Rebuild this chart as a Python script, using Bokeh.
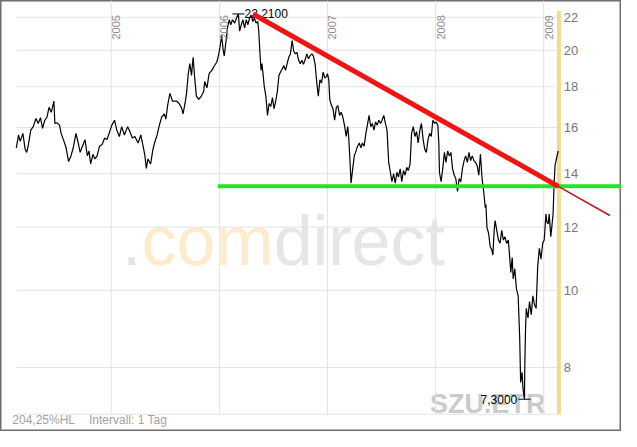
import math
from bokeh.plotting import figure
from bokeh.models import ColumnDataSource, LabelSet, Label, Range1d
from bokeh.core.properties import value
from bokeh.embed import file_html
from bokeh.resources import INLINE

# ---------------- data ----------------
DATES = [
    2004.121, 2004.142, 2004.157, 2004.182, 2004.203, 2004.218, 2004.233, 2004.255, 2004.278, 2004.303,
    2004.324, 2004.345, 2004.364, 2004.385, 2004.405, 2004.424, 2004.445, 2004.469, 2004.478, 2004.496,
    2004.521, 2004.536, 2004.557, 2004.582, 2004.605, 2004.627, 2004.648, 2004.673, 2004.694, 2004.712,
    2004.733, 2004.757, 2004.778, 2004.794, 2004.809, 2004.830, 2004.848, 2004.869, 2004.891, 2004.915,
    2004.939, 2004.960, 2004.975, 2005.005, 2005.030, 2005.051, 2005.075, 2005.096, 2005.121, 2005.151,
    2005.173, 2005.194, 2005.218, 2005.248, 2005.273, 2005.294, 2005.309, 2005.324, 2005.339, 2005.364,
    2005.385, 2005.400, 2005.424, 2005.445, 2005.466, 2005.491, 2005.505, 2005.521, 2005.542, 2005.566,
    2005.603, 2005.627, 2005.651, 2005.664, 2005.682, 2005.696, 2005.712, 2005.727, 2005.742, 2005.757,
    2005.773, 2005.787, 2005.809, 2005.833, 2005.855, 2005.864, 2005.885, 2005.905, 2005.930, 2005.955,
    2005.975, 2005.991, 2006.005, 2006.021, 2006.036, 2006.045, 2006.060, 2006.075, 2006.091, 2006.105,
    2006.121, 2006.142, 2006.157, 2006.176, 2006.187, 2006.203, 2006.218, 2006.233, 2006.248, 2006.264,
    2006.278, 2006.294, 2006.309, 2006.324, 2006.339, 2006.355, 2006.364, 2006.375, 2006.385, 2006.394,
    2006.405, 2006.415, 2006.430, 2006.445, 2006.460, 2006.475, 2006.491, 2006.505, 2006.521, 2006.536,
    2006.551, 2006.566, 2006.582, 2006.596, 2006.612, 2006.627, 2006.642, 2006.657, 2006.673, 2006.687,
    2006.703, 2006.718, 2006.733, 2006.748, 2006.764, 2006.778, 2006.794, 2006.809, 2006.824, 2006.839,
    2006.855, 2006.869, 2006.885, 2006.900, 2006.915, 2006.930, 2006.945, 2006.960, 2006.975, 2006.991,
    2007.000, 2007.012, 2007.021, 2007.036, 2007.051, 2007.066, 2007.082, 2007.096, 2007.112, 2007.127,
    2007.142, 2007.157, 2007.173, 2007.187, 2007.196, 2007.205, 2007.218, 2007.233, 2007.248, 2007.264,
    2007.278, 2007.294, 2007.309, 2007.324, 2007.339, 2007.355, 2007.369, 2007.385, 2007.400, 2007.415,
    2007.430, 2007.445, 2007.460, 2007.475, 2007.491, 2007.505, 2007.521, 2007.536, 2007.551, 2007.566,
    2007.582, 2007.596, 2007.612, 2007.627, 2007.642, 2007.657, 2007.673, 2007.687, 2007.703, 2007.718,
    2007.733, 2007.748, 2007.764, 2007.778, 2007.794, 2007.809, 2007.824, 2007.839, 2007.855, 2007.869,
    2007.885, 2007.900, 2007.915, 2007.930, 2007.945, 2007.960, 2007.975, 2007.991, 2008.005, 2008.021,
    2008.030, 2008.036, 2008.051, 2008.066, 2008.082, 2008.096, 2008.112, 2008.127, 2008.142, 2008.157,
    2008.173, 2008.187, 2008.203, 2008.218, 2008.233, 2008.248, 2008.264, 2008.278, 2008.294, 2008.309,
    2008.324, 2008.339, 2008.355, 2008.369, 2008.385, 2008.400, 2008.415, 2008.430, 2008.445, 2008.460,
    2008.466, 2008.475, 2008.491, 2008.505, 2008.521, 2008.530, 2008.542, 2008.551, 2008.566, 2008.582,
    2008.596, 2008.612, 2008.627, 2008.642, 2008.657, 2008.673, 2008.687, 2008.696, 2008.709, 2008.718,
    2008.733, 2008.748, 2008.764, 2008.778, 2008.787, 2008.800, 2008.809, 2008.822, 2008.826, 2008.832,
    2008.839, 2008.855, 2008.869, 2008.885, 2008.900, 2008.915, 2008.930, 2008.945, 2008.960, 2008.975,
    2008.991, 2009.005, 2009.021, 2009.030, 2009.042, 2009.051, 2009.066, 2009.075, 2009.087, 2009.096,
    2009.105, 2009.118, 2009.127, 2009.135,
]
PRICES = [
    15.09, 15.66, 15.37, 15.73, 15.03, 14.89, 15.23, 15.88, 16.04, 16.42,
    16.19, 16.46, 15.96, 16.34, 16.49, 16.96, 16.72, 17.27, 16.19, 16.22,
    16.11, 15.73, 15.45, 15.09, 14.50, 14.74, 15.09, 15.73, 15.30, 14.89,
    15.16, 15.45, 14.74, 14.95, 14.40, 14.81, 14.61, 14.74, 15.16, 15.23,
    15.52, 15.45, 15.66, 16.11, 16.34, 15.88, 15.59, 16.04, 15.66, 16.04,
    15.81, 15.52, 15.59, 15.30, 15.66, 15.16, 14.81, 14.22, 14.61, 14.40,
    15.02, 15.30, 15.66, 16.11, 16.49, 16.64, 16.39, 17.04, 17.66, 17.27,
    17.27, 17.15, 16.92, 16.64, 17.15, 17.66, 18.69, 19.24, 18.60, 19.60,
    18.37, 17.52, 17.35, 17.52, 17.75, 18.27, 17.94, 18.69, 18.87, 19.14,
    19.32, 19.68, 20.15, 20.87, 19.96, 19.68, 20.47, 21.34, 21.84, 21.53,
    21.84, 21.63, 21.94, 22.21, 21.14, 21.53, 21.84, 21.34, 21.84, 21.53,
    21.94, 22.14, 21.73, 21.94, 21.63, 21.73, 21.14, 19.87, 18.87, 19.24,
    18.60, 18.02, 17.52, 16.57, 17.15, 17.00, 17.44, 16.89, 17.27, 17.75,
    18.60, 18.78, 18.96, 19.14, 18.87, 19.24, 19.60, 19.79, 20.57, 19.96,
    19.79, 19.88, 19.43, 19.24, 19.43, 19.20, 19.47, 19.79, 19.51, 19.68,
    19.79, 19.68, 19.24, 18.27, 17.52, 18.36, 18.19, 18.78, 18.45, 18.54,
    18.69, 18.36, 17.35, 17.07, 16.89, 16.34, 16.96, 17.04, 16.57, 16.72,
    16.49, 16.11, 15.59, 16.04, 15.59, 14.81, 13.62, 14.20, 14.74, 14.95,
    15.16, 15.30, 15.09, 15.30, 15.16, 15.73, 16.11, 16.57, 16.04, 16.19,
    15.88, 16.26, 16.11, 16.34, 16.19, 16.34, 16.57, 16.19, 15.88, 14.47,
    14.06, 13.68, 14.00, 13.62, 14.06, 13.87, 14.20, 13.68, 14.13, 13.94,
    14.26, 14.13, 14.40, 15.73, 16.04, 15.59, 15.81, 15.30, 15.88, 16.19,
    15.45, 15.02, 14.89, 15.45, 15.73, 15.59, 16.34, 16.19, 16.26, 16.11,
    15.30, 14.06, 13.68, 14.20, 14.89, 14.47, 14.95, 14.74, 14.89, 14.20,
    13.94, 13.81, 13.30, 13.81, 13.68, 14.20, 14.54, 14.74, 14.47, 14.89,
    14.54, 14.74, 14.54, 14.47, 14.33, 13.94, 14.81, 13.81, 13.30, 12.69,
    12.81, 12.00, 11.78, 11.34, 11.23, 11.07, 11.89, 12.23, 11.89, 11.56,
    11.45, 11.89, 11.56, 11.67, 11.45, 11.56, 10.94, 10.53, 10.99, 10.33,
    10.64, 10.04, 9.84, 8.73, 7.66, 7.89, 7.52, 7.30, 8.12, 8.90,
    9.49, 9.23, 9.68, 9.32, 9.84, 9.59, 9.49, 10.73, 11.29, 10.94,
    11.45, 11.56, 12.46, 12.17, 12.11, 12.46, 11.67, 12.00, 12.46, 13.55,
    14.33, 14.61, 14.81, 14.95,
]

Y_TICKS = [8, 10, 12, 14, 16, 18, 20, 22]
YEARS = [2005, 2006, 2007, 2008, 2009]

TREND_X = [2006.31, 2009.135]
TREND_Y = [22.21, 13.50]
TREND_EXT_X = [2009.135, 2009.613]
TREND_EXT_Y = [13.50, 12.41]
SUPPORT_START = 2005.985
SUPPORT_LEVEL = 13.50
TODAY = 2009.141

INFO_LEFT = "204,25%HL"
INFO_RIGHT = "Intervall: 1 Tag"
SYMBOL = "SZU.ETR"

# ---------------- layout constants ----------------
W, H = 621, 431
X0, X1 = 2003.975, 2009.720
Y0, Y1 = 6.65, 23.09
PLOT_BOTTOM = 6.99
TODAY_TOP = 22.4
FONT = "Liberation Sans"

p = figure(width=W, height=H, x_range=Range1d(X0, X1), y_range=Range1d(Y0, Y1),
           y_axis_type="log", output_backend="svg", toolbar_location=None,
           x_axis_location=None, y_axis_location=None, min_border=0, title=None)
for g in p.grid:
    g.visible = False
p.background_fill_color = "white"
p.border_fill_color = "white"
p.outline_line_color = "#6e6e6e"
p.outline_line_width = 2

# ---------------- watermarks (underlay) ----------------
wm_base = 191
for txt, xpos, col in [(".", 121.5, "#e4e4e4"), ("com", 141.0, "#fdeccb"), ("direct", 273.2, "#e6e6e6")]:
    p.add_layout(Label(x=xpos, y=wm_base, x_units="screen", y_units="screen", text=txt,
                       text_font=FONT, text_font_size="70px", text_color=col,
                       text_baseline="alphabetic", level="underlay"))
p.add_layout(Label(x=429.5, y=28, x_units="screen", y_units="screen", text=SYMBOL,
                   text_font=FONT, text_font_size="27px", text_font_style="bold",
                   text_color="#cbcbcb", text_baseline="alphabetic", level="underlay"))

# ---------------- grid ----------------
grid_col = "#e3e3e3"
hy = Y_TICKS + [PLOT_BOTTOM]
p.segment(x0=[DATES[0]] * len(hy), y0=hy, x1=[TODAY] * len(hy), y1=hy,
          line_color=grid_col, line_width=1)
p.segment(x0=YEARS, y0=[PLOT_BOTTOM] * len(YEARS), x1=YEARS, y1=[Y1] * len(YEARS),
          line_color=grid_col, line_width=1)

# current-date marker
p.segment(x0=[TODAY], y0=[PLOT_BOTTOM], x1=[TODAY], y1=[TODAY_TOP],
          line_color="#f8d88e", line_width=4)

# ---------------- price ----------------
p.line(DATES, PRICES, line_color="black", line_width=1.2)

# extremes
imax = max(range(len(PRICES)), key=lambda i: PRICES[i])
imin = min(range(len(PRICES)), key=lambda i: PRICES[i])
half = 0.056
for i in (imax, imin):
    p.segment(x0=[DATES[i] - half], y0=[PRICES[i]], x1=[DATES[i] + half], y1=[PRICES[i]],
              line_color="black", line_width=1)
fmt = lambda v: f"{v:.4f}".replace(".", ",")
p.text(x=[DATES[imax] + half], y=[PRICES[imax]], text=[fmt(PRICES[imax])],
       text_font=value(FONT), text_font_size="12px", text_color="black",
       text_align="left", text_baseline="middle")
p.text(x=[DATES[imin] - half - 0.01], y=[PRICES[imin]], text=[fmt(PRICES[imin])],
       text_font=value(FONT), text_font_size="12px", text_color="black",
       text_align="right", text_baseline="middle")

# ---------------- drawn lines ----------------
p.segment(x0=[SUPPORT_START], y0=[SUPPORT_LEVEL], x1=[X1], y1=[SUPPORT_LEVEL],
          line_color="#22e622", line_width=4)
p.line(TREND_X, TREND_Y, line_color="#f01414", line_width=5)
p.line(TREND_EXT_X, TREND_EXT_Y, line_color="#b41a1a", line_width=1.5)

# ---------------- tick labels ----------------
ysrc = ColumnDataSource(dict(x=[563.3] * len(Y_TICKS), y=Y_TICKS, t=[str(v) for v in Y_TICKS]))
p.add_layout(LabelSet(x="x", y="y", text="t", source=ysrc, x_units="screen", y_units="data",
                      text_font=value(FONT), text_font_size="13px", text_color="#777777",
                      text_align="left", text_baseline="middle"))
xsrc = ColumnDataSource(dict(x=YEARS, y=[416.4] * len(YEARS), t=[str(v) for v in YEARS]))
p.add_layout(LabelSet(x="x", y="y", text="t", source=xsrc, x_units="data", y_units="screen",
                      angle=math.pi / 2, x_offset=1,
                      text_font=value(FONT), text_font_size="11px", text_color="#8e8e8e",
                      text_align="right", text_baseline="top"))

# ---------------- info line ----------------
p.add_layout(Label(x=11.8, y=11.5, x_units="screen", y_units="screen", text=INFO_LEFT,
                   text_font=FONT, text_font_size="12px", text_color="#a2a2a2",
                   text_baseline="middle"))
p.add_layout(Label(x=88.5, y=11.5, x_units="screen", y_units="screen", text=INFO_RIGHT,
                   text_font=FONT, text_font_size="12px", text_color="#a2a2a2",
                   text_baseline="middle"))

open("out.html", "w").write(file_html(p, INLINE))
